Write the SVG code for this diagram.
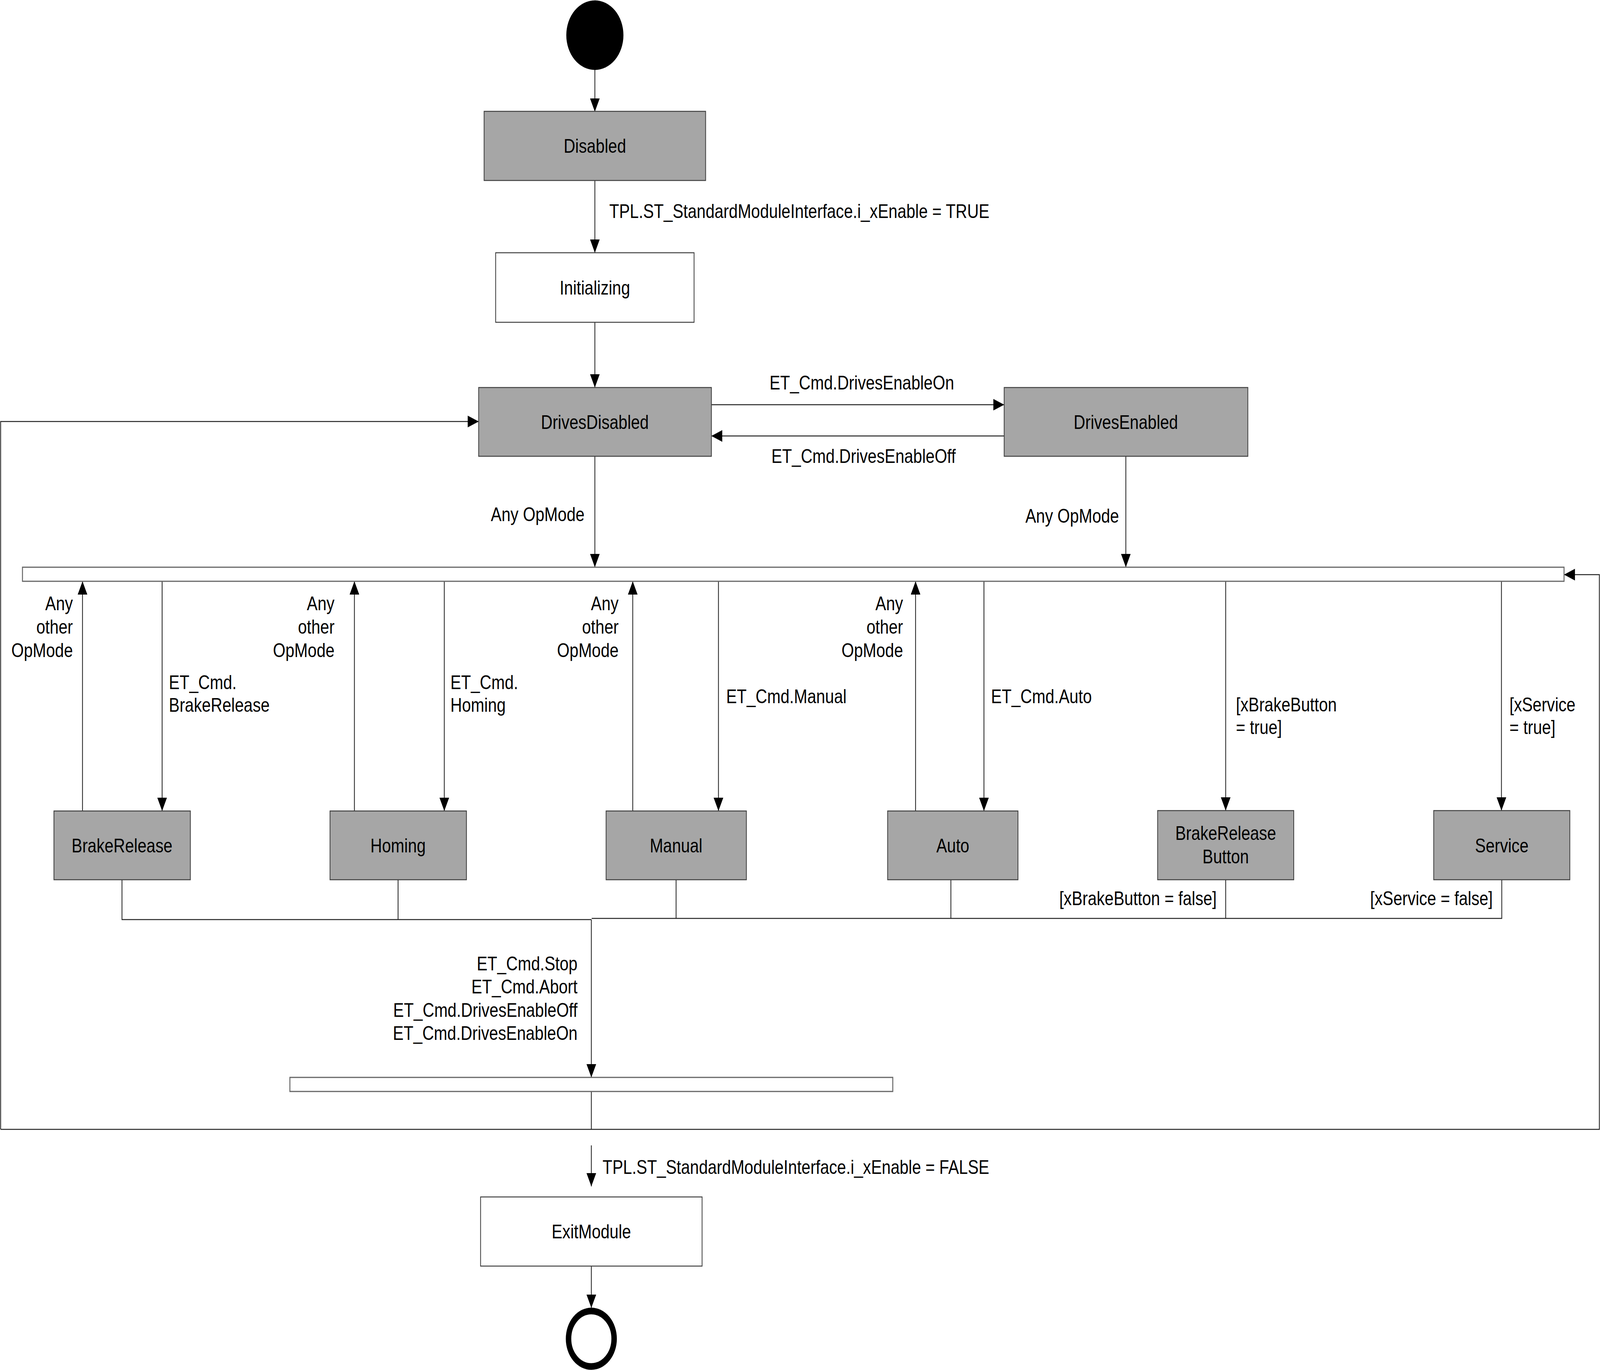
<svg xmlns="http://www.w3.org/2000/svg" width="4984" height="3507" viewBox="0 0 4984 3507" preserveAspectRatio="none">
<style>
svg{width:100vw;height:100vh}
.st{fill:#a6a6a6;stroke:#404040;stroke-width:2.5}
.wt{fill:#ffffff;stroke:#404040;stroke-width:2.5}
.bar{fill:#ffffff;stroke:#666666;stroke-width:3}
.c{fill:none;stroke:#222222;stroke-width:2.5}
.a{fill:none;stroke:#222222;stroke-width:2.5;marker-end:url(#ah)}
text{font-family:"Liberation Sans",Arial,sans-serif;font-size:50px;fill:#000000}
.m{text-anchor:middle}
.e{text-anchor:end}
</style>
<defs>
<marker id="ah" markerUnits="userSpaceOnUse" markerWidth="34" markerHeight="30" refX="34" refY="15" orient="auto">
<path d="M0,0 L34,15 L0,30 z" fill="#000000"/>
</marker>
</defs>
<rect width="4984" height="3507" fill="#ffffff"/>
<g id="connectors">
<line class="a" x1="1853" y1="179" x2="1853" y2="286"/>
<line class="a" x1="1853" y1="462" x2="1853" y2="647"/>
<line class="a" x1="1853" y1="825" x2="1853" y2="992"/>
<line class="a" x1="2216" y1="1036" x2="3128" y2="1036"/>
<line class="a" x1="3128" y1="1116" x2="2216" y2="1116"/>
<line class="a" x1="1853" y1="1168" x2="1853" y2="1452"/>
<line class="a" x1="3507" y1="1168" x2="3507" y2="1452"/>
<line class="a" x1="257" y1="2076" x2="257" y2="1488"/>
<line class="a" x1="1104" y1="2076" x2="1104" y2="1488"/>
<line class="a" x1="1971" y1="2076" x2="1971" y2="1488"/>
<line class="a" x1="2852" y1="2076" x2="2852" y2="1488"/>
<line class="a" x1="505" y1="1488" x2="505" y2="2076"/>
<line class="a" x1="1384" y1="1488" x2="1384" y2="2076"/>
<line class="a" x1="2238" y1="1488" x2="2238" y2="2076"/>
<line class="a" x1="3065" y1="1488" x2="3065" y2="2076"/>
<line class="a" x1="3818" y1="1488" x2="3818" y2="2075"/>
<line class="a" x1="4677" y1="1488" x2="4677" y2="2075"/>
<path class="c" d="M380,2252 V2354 H1842 M1240,2252 V2354"/>
<path class="c" d="M2106,2252 V2351 M2962,2252 V2351 M3818,2252 V2351 M4678,2252 V2351 H1843"/>
<line class="a" x1="1842" y1="2354" x2="1842" y2="2758"/>
<path class="c" d="M1842,2794 V2891"/>
<path class="a" d="M2,2891 V1079 H1491"/>
<path class="a" d="M2,2891 H4982 V1471 H4872"/>
<line class="a" x1="1842" y1="2932" x2="1842" y2="3037"/>
<line class="a" x1="1842" y1="3241" x2="1842" y2="3348"/>
</g>
<g id="labels">
<text x="1898" y="558">TPL.ST_StandardModuleInterface.i_xEnable = TRUE</text>
<text x="2397" y="997">ET_Cmd.DrivesEnableOn</text>
<text x="2403" y="1185">ET_Cmd.DrivesEnableOff</text>
<text x="1529" y="1334">Any OpMode</text>
<text x="3194" y="1338">Any OpMode</text>
<text class="e" x="227" y="1562">Any</text>
<text class="e" x="227" y="1622">other</text>
<text class="e" x="227" y="1682">OpMode</text>
<text class="e" x="1042" y="1562">Any</text>
<text class="e" x="1042" y="1622">other</text>
<text class="e" x="1042" y="1682">OpMode</text>
<text class="e" x="1927" y="1562">Any</text>
<text class="e" x="1927" y="1622">other</text>
<text class="e" x="1927" y="1682">OpMode</text>
<text class="e" x="2813" y="1562">Any</text>
<text class="e" x="2813" y="1622">other</text>
<text class="e" x="2813" y="1682">OpMode</text>
<text x="526" y="1764">ET_Cmd.</text>
<text x="526" y="1822">BrakeRelease</text>
<text x="1403" y="1764">ET_Cmd.</text>
<text x="1403" y="1822">Homing</text>
<text x="2262" y="1800">ET_Cmd.Manual</text>
<text x="3087" y="1800">ET_Cmd.Auto</text>
<text x="3850" y="1821">[xBrakeButton</text>
<text x="3850" y="1879">= true]</text>
<text x="4702" y="1821">[xService</text>
<text x="4702" y="1879">= true]</text>
<text class="e" x="3790" y="2317">[xBrakeButton = false]</text>
<text class="e" x="4650" y="2317">[xService = false]</text>
<text class="e" x="1799" y="2484">ET_Cmd.Stop</text>
<text class="e" x="1799" y="2543">ET_Cmd.Abort</text>
<text class="e" x="1799" y="2603">ET_Cmd.DrivesEnableOff</text>
<text class="e" x="1799" y="2662">ET_Cmd.DrivesEnableOn</text>
<text x="1877" y="3005">TPL.ST_StandardModuleInterface.i_xEnable = FALSE</text>
</g>
<g id="start"><circle cx="1853" cy="90" r="89" fill="#000000"/></g>
<g id="disabled"><rect class="st" x="1508" y="285" width="690" height="177"/><text class="m" x="1853" y="391">Disabled</text></g>
<g id="initializing"><rect class="wt" x="1544" y="647" width="618" height="178"/><text class="m" x="1853" y="754">Initializing</text></g>
<g id="drivesdisabled"><rect class="st" x="1491" y="992" width="725" height="176"/><text class="m" x="1853" y="1098">DrivesDisabled</text></g>
<g id="drivesenabled"><rect class="st" x="3128" y="992" width="759" height="176"/><text class="m" x="3507" y="1098">DrivesEnabled</text></g>
<g id="forkTop"><rect class="bar" x="70" y="1452" width="4802" height="36"/></g>
<g id="brakerelease"><rect class="st" x="168" y="2076" width="425" height="176"/><text class="m" x="380" y="2182">BrakeRelease</text></g>
<g id="homing"><rect class="st" x="1028" y="2076" width="425" height="176"/><text class="m" x="1240" y="2182">Homing</text></g>
<g id="manual"><rect class="st" x="1888" y="2076" width="437" height="176"/><text class="m" x="2106" y="2182">Manual</text></g>
<g id="auto"><rect class="st" x="2765" y="2076" width="406" height="176"/><text class="m" x="2968" y="2182">Auto</text></g>
<g id="brakereleasebutton"><rect class="st" x="3606" y="2075" width="424" height="177"/><text class="m" x="3818" y="2150">BrakeRelease</text><text class="m" x="3818" y="2210">Button</text></g>
<g id="service"><rect class="st" x="4466" y="2075" width="424" height="177"/><text class="m" x="4678" y="2182">Service</text></g>
<g id="forkBottom"><rect class="bar" x="903" y="2758" width="1878" height="36"/></g>
<g id="exitmodule"><rect class="wt" x="1497" y="3064" width="690" height="177"/><text class="m" x="1842" y="3170">ExitModule</text></g>
<g id="end"><circle cx="1842" cy="3427" r="71" fill="none" stroke="#000000" stroke-width="17"/></g>
</svg>
